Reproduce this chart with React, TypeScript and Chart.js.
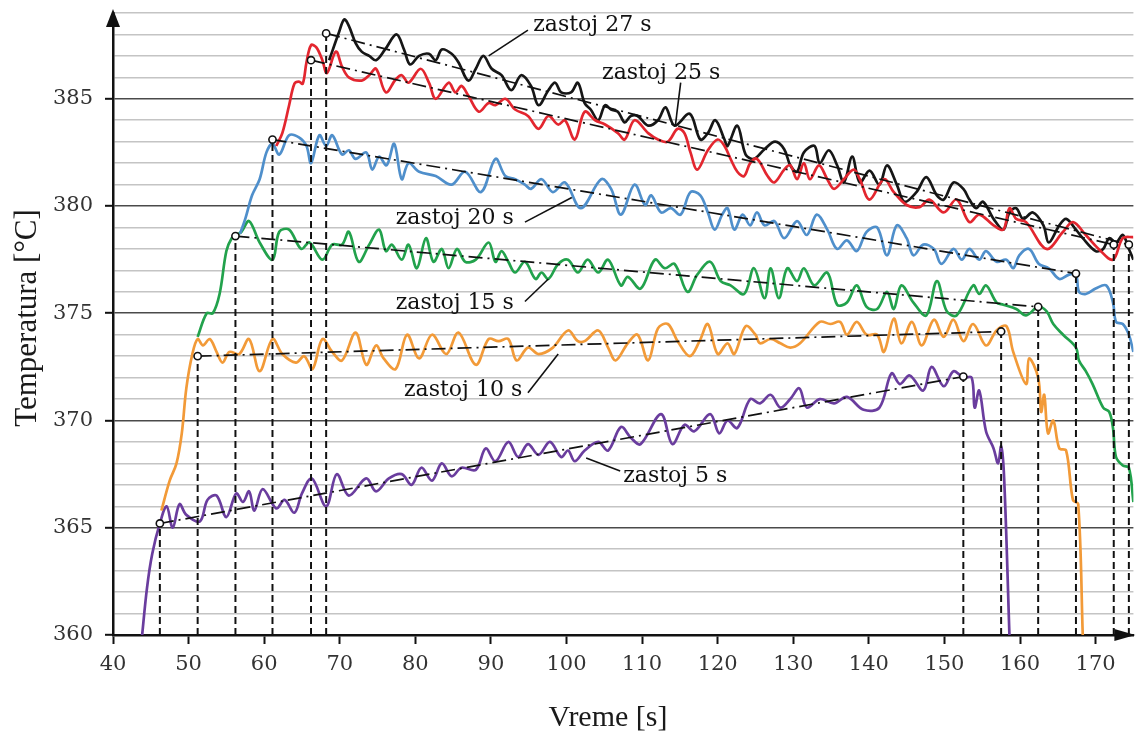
import React, { useEffect, useRef } from 'react';
import { Chart, registerables } from 'chart.js';

Chart.register(...registerables);

type P = [number, number];

// ---- tick values ----
const xTickValues = [40, 50, 60, 70, 80, 90, 100, 110, 120, 130, 140, 150, 160, 170];
const yGridValues = [360, 361, 362, 363, 364, 365, 366, 367, 368, 369, 370, 371, 372, 373, 374, 375, 376, 377, 378, 379, 380, 381, 382, 383, 384, 385, 386, 387, 388, 389];
const yLabelValues = [360, 365, 370, 375, 380, 385];

// ---- measured curves [time s, temperature °C] ----
const zastoj5: P[] = [
  [43.8, 359.8], [44.5, 362.2], [45.2, 363.8], [46.2, 365.2], [47.1, 366.0], [47.9, 365.0], [48.8, 366.1], [49.7, 365.6],
  [51.5, 365.3], [52.5, 366.3], [53.7, 366.5], [55.0, 365.5], [56.3, 366.6], [57.2, 366.2], [58.0, 366.7], [58.7, 365.8],
  [59.8, 366.8], [61.6, 365.9], [62.7, 366.3], [64.0, 365.7], [65.0, 366.6], [66.3, 367.3], [68.2, 366.0], [69.6, 367.5],
  [71.2, 366.5], [73.5, 367.3], [74.8, 366.7], [76.5, 367.3], [78.2, 367.5], [79.5, 367.0], [80.8, 367.8], [82.2, 367.2],
  [83.5, 368.0], [84.8, 367.4], [86.1, 367.8], [88.0, 367.7], [89.3, 368.7], [90.6, 368.1], [92.3, 369.0], [93.6, 368.3],
  [94.9, 368.9], [96.3, 368.4], [97.8, 369.0], [99.3, 368.3], [100.2, 368.6], [101.1, 368.1], [102.4, 368.6], [104.2, 369.0],
  [105.5, 368.6], [107.2, 369.7], [108.5, 369.2], [109.8, 368.9], [112.5, 370.3], [114.0, 368.9], [115.6, 369.8], [116.9, 369.5],
  [119.0, 370.3], [120.2, 369.4], [121.3, 370.0], [122.6, 369.65], [124.3, 371.0], [125.6, 370.8], [127.0, 371.2], [128.3, 370.6],
  [129.6, 371.0], [130.8, 371.5], [131.8, 370.6], [133.5, 371.0], [135.4, 370.8], [137.1, 371.1], [139.3, 370.5], [141.4, 370.6],
  [143.0, 372.2], [144.1, 371.7], [145.4, 372.1], [147.2, 371.4], [148.3, 372.5], [149.9, 371.6], [151.2, 372.3], [152.5, 372.0],
  [153.6, 372.0], [154.0, 370.6], [154.6, 371.4], [155.5, 369.5], [156.5, 368.7], [157.1, 368.0], [157.5, 368.8], [157.9, 367.3],
  [158.6, 360.0],
];

const zastoj10: P[] = [
  [46.4, 365.8], [47.5, 367.2], [48.4, 368.0], [49.1, 369.4], [49.7, 371.5], [50.5, 373.1], [51.2, 373.8], [51.9, 373.5],
  [52.8, 373.8], [53.7, 373.2], [54.5, 372.7], [55.4, 373.2], [56.7, 373.1], [58.0, 373.8], [59.4, 372.3], [61.1, 373.8],
  [62.4, 373.1], [64.2, 372.7], [65.3, 373.0], [66.4, 372.4], [67.7, 373.8], [69.0, 373.2], [70.3, 372.8], [72.1, 374.1],
  [73.5, 372.6], [74.8, 373.5], [75.8, 372.9], [77.4, 372.4], [78.9, 374.0], [80.5, 372.9], [82.2, 374.0], [84.1, 373.1],
  [85.7, 374.1], [88.0, 372.6], [89.7, 373.8], [91.0, 373.7], [92.3, 373.8], [93.4, 372.8], [94.9, 373.4], [96.3, 373.1],
  [98.2, 373.4], [100.2, 374.2], [101.5, 373.7], [102.4, 373.7], [104.2, 374.2], [105.5, 373.4], [106.5, 372.8], [108.1, 373.6],
  [109.4, 374.0], [110.8, 372.8], [112.1, 374.3], [113.4, 374.5], [114.7, 373.7], [116.3, 373.0], [117.6, 373.7], [118.7, 374.5],
  [120.0, 373.1], [121.3, 373.6], [122.2, 373.1], [123.7, 374.4], [125.0, 374.0], [125.6, 373.6], [127.0, 373.8], [128.3, 373.6],
  [129.6, 373.4], [130.9, 373.6], [133.5, 374.6], [134.9, 374.5], [136.2, 374.6], [137.1, 374.0], [138.4, 374.6], [139.7, 374.0],
  [141.1, 374.0], [142.0, 373.2], [143.3, 374.75], [144.3, 373.6], [145.7, 374.6], [147.0, 373.5], [148.6, 374.7], [149.9, 373.9],
  [151.2, 374.7], [152.5, 373.7], [153.8, 374.5], [155.5, 373.5], [156.9, 374.2], [158.2, 374.4], [159.1, 373.2], [160.8, 371.7],
  [161.2, 372.9], [162.4, 372.0], [162.8, 370.4], [163.2, 371.2], [163.7, 369.4], [164.4, 370.0], [165.2, 368.7], [166.1, 368.6],
  [167.0, 366.3], [167.7, 366.1], [168.3, 360.0],
];

const zastoj15: P[] = [
  [51.2, 373.9], [52.4, 375.0], [53.2, 375.0], [54.1, 375.9], [55.0, 377.9], [55.7, 378.5], [56.3, 378.65], [57.0, 378.8],
  [58.0, 379.3], [59.4, 378.3], [61.1, 377.5], [62.0, 378.8], [63.3, 378.9], [64.9, 378.0], [66.0, 378.3], [67.7, 377.5],
  [69.0, 378.2], [70.3, 378.2], [71.2, 378.8], [72.5, 377.4], [73.9, 378.2], [75.2, 378.9], [76.1, 377.9], [76.9, 378.2],
  [78.2, 377.5], [79.1, 378.2], [80.2, 377.1], [81.4, 378.5], [82.4, 377.4], [83.5, 378.0], [84.4, 377.1], [85.5, 378.0],
  [86.6, 377.4], [88.0, 377.5], [89.7, 378.3], [90.6, 377.4], [91.4, 377.9], [92.3, 377.4], [93.2, 376.9], [94.5, 377.4],
  [95.9, 376.6], [96.7, 376.9], [97.6, 376.6], [98.9, 377.3], [100.2, 377.5], [101.5, 376.9], [102.8, 377.5], [104.2, 376.9],
  [105.5, 377.5], [107.2, 376.3], [108.1, 376.7], [109.8, 376.15], [111.7, 377.5], [113.0, 377.1], [114.3, 377.3], [116.0, 376.0],
  [117.3, 376.8], [119.0, 377.4], [120.4, 376.5], [121.7, 376.3], [123.5, 375.9], [124.8, 377.1], [126.2, 375.7], [127.0, 377.1],
  [128.1, 375.7], [129.2, 377.1], [130.5, 376.5], [131.4, 377.1], [132.8, 376.3], [134.5, 376.9], [135.8, 375.4], [137.1, 375.5],
  [138.4, 376.3], [139.7, 375.3], [141.1, 375.2], [142.4, 376.0], [143.3, 375.2], [144.3, 376.3], [145.9, 375.5], [147.6, 374.9],
  [149.0, 376.5], [150.3, 375.1], [151.6, 374.9], [153.8, 376.3], [154.6, 375.9], [155.5, 376.3], [156.9, 375.5], [157.8, 375.4],
  [159.5, 375.2], [160.8, 374.9], [162.4, 375.3], [163.5, 375.1], [164.4, 374.5], [165.7, 374.0], [167.4, 373.4], [167.8, 372.8],
  [168.7, 372.3], [169.6, 371.7], [171.0, 370.6], [171.8, 370.4], [172.3, 369.65], [172.7, 368.3], [173.6, 367.9], [174.4, 367.8],
  [175.0, 366.2],
];

const zastoj20: P[] = [
  [56.8, 378.7], [57.5, 379.4], [58.4, 380.5], [59.4, 381.25], [60.3, 382.5], [61.1, 382.9], [62.0, 382.4], [63.3, 383.3],
  [64.6, 383.2], [65.6, 382.8], [66.2, 382.0], [67.3, 383.3], [68.2, 382.8], [69.0, 383.3], [70.3, 382.4], [71.2, 382.6],
  [72.1, 382.2], [73.5, 382.5], [74.3, 381.7], [75.2, 382.3], [76.2, 381.9], [77.2, 382.9], [78.2, 381.25], [79.1, 382.0],
  [80.5, 381.6], [82.7, 381.4], [84.8, 381.0], [86.6, 381.6], [88.7, 380.65], [90.6, 382.2], [91.9, 381.4], [93.2, 381.25],
  [94.5, 381.0], [95.3, 380.8], [96.7, 381.25], [98.2, 380.65], [99.8, 381.1], [101.9, 379.9], [104.6, 381.25], [105.9, 380.8],
  [107.2, 379.6], [109.0, 381.0], [110.4, 380.05], [111.2, 380.5], [112.5, 379.7], [113.8, 379.9], [115.1, 379.6], [116.4, 380.65],
  [117.7, 380.5], [118.7, 379.7], [119.6, 378.9], [120.6, 379.6], [121.3, 379.9], [122.2, 378.9], [123.3, 379.6], [124.3, 379.1],
  [125.2, 379.7], [126.2, 379.1], [127.5, 379.3], [128.8, 378.5], [130.5, 379.3], [131.8, 378.65], [133.1, 379.6], [134.5, 378.9],
  [135.8, 378.0], [137.1, 378.4], [138.4, 377.9], [139.7, 378.8], [141.1, 379.0], [142.4, 377.7], [143.7, 379.1], [145.0, 378.5],
  [145.9, 377.7], [147.2, 378.2], [148.6, 378.0], [149.6, 377.3], [151.2, 378.0], [152.3, 377.5], [153.3, 378.0], [154.6, 377.5],
  [155.5, 377.9], [156.9, 377.4], [158.2, 377.5], [159.1, 377.1], [159.9, 377.7], [161.2, 378.0], [162.5, 377.3], [163.8, 377.1],
  [165.2, 376.6], [166.5, 376.8], [167.4, 376.8], [167.8, 376.0], [168.7, 375.9], [170.0, 376.15], [171.4, 376.3], [172.3, 375.5],
  [172.7, 374.6], [173.6, 374.5], [174.4, 374.0], [175.0, 373.2],
];

const zastoj25: P[] = [
  [61.6, 382.8], [62.4, 383.4], [63.3, 384.7], [64.0, 385.7], [64.6, 385.8], [65.1, 385.7], [65.6, 386.7], [66.2, 387.5],
  [66.9, 387.4], [67.7, 386.8], [68.3, 386.2], [69.5, 387.2], [70.3, 386.5], [71.2, 386.0], [72.9, 385.85], [73.9, 386.1],
  [74.8, 386.4], [76.1, 385.3], [77.4, 385.9], [78.2, 386.1], [79.1, 385.75], [80.7, 386.4], [81.8, 385.75], [82.7, 385.0],
  [84.4, 385.75], [85.3, 385.3], [86.1, 385.6], [87.0, 385.15], [88.4, 384.4], [89.7, 384.8], [90.6, 384.7], [91.9, 385.0],
  [93.2, 384.5], [94.9, 384.2], [96.3, 383.6], [97.6, 384.2], [98.9, 383.8], [99.8, 384.0], [101.1, 383.1], [102.4, 384.4],
  [103.8, 384.0], [105.1, 383.8], [106.8, 383.4], [107.7, 383.1], [109.0, 384.0], [110.8, 383.4], [112.1, 383.1], [113.4, 383.0],
  [114.7, 383.6], [115.6, 383.4], [116.4, 382.5], [117.3, 381.7], [118.7, 382.6], [120.0, 383.1], [120.9, 382.8], [121.7, 382.2],
  [122.6, 381.6], [123.5, 381.4], [124.3, 382.0], [125.2, 382.2], [126.6, 381.4], [127.5, 381.1], [128.8, 381.7], [129.6, 381.9],
  [130.5, 381.25], [131.4, 382.0], [132.2, 381.25], [133.4, 381.9], [134.5, 381.25], [135.4, 380.8], [136.7, 381.25], [138.0, 381.7],
  [138.8, 381.25], [140.1, 380.3], [142.0, 381.25], [143.3, 380.65], [145.0, 380.05], [146.7, 379.95], [148.0, 380.3], [149.9, 379.7],
  [151.6, 380.3], [153.3, 379.25], [154.6, 379.6], [156.5, 379.1], [157.8, 378.9], [158.6, 379.9], [159.5, 379.4], [160.8, 379.25],
  [163.5, 378.0], [165.7, 378.8], [167.0, 379.25], [168.7, 378.65], [170.4, 378.0], [172.3, 377.5], [173.6, 378.5], [175.0, 378.55],
];

const zastoj27: P[] = [
  [68.6, 386.8], [69.9, 388.1], [70.6, 388.7], [71.2, 388.4], [72.1, 387.6], [72.9, 387.2], [73.9, 387.0], [74.8, 386.8],
  [76.0, 387.3], [77.5, 388.0], [78.5, 387.3], [79.3, 386.6], [80.5, 387.0], [81.8, 387.1], [82.7, 386.8], [83.5, 387.3],
  [84.8, 387.1], [85.7, 386.7], [87.0, 385.85], [88.0, 386.4], [89.0, 387.0], [90.1, 386.4], [91.4, 386.1], [92.7, 385.4],
  [94.0, 386.1], [95.3, 385.6], [96.3, 384.7], [97.6, 385.4], [98.5, 385.75], [99.3, 385.3], [100.6, 385.3], [101.5, 385.75],
  [102.4, 384.8], [103.2, 384.5], [104.2, 384.0], [105.1, 384.7], [105.9, 384.5], [106.8, 384.4], [107.7, 383.9], [108.5, 384.2],
  [109.4, 384.2], [110.8, 383.75], [112.1, 384.0], [113.1, 384.6], [114.3, 383.75], [116.3, 384.3], [117.7, 383.1], [118.7, 383.4],
  [119.7, 384.0], [120.9, 383.1], [121.3, 382.8], [122.6, 383.75], [123.7, 382.4], [124.8, 382.2], [126.2, 382.65], [127.6, 383.0],
  [128.8, 382.65], [129.6, 381.9], [130.5, 381.6], [131.4, 382.5], [132.8, 382.8], [133.5, 382.0], [134.7, 382.6], [135.8, 381.9],
  [136.7, 381.1], [137.8, 382.3], [138.8, 381.1], [140.1, 381.65], [141.4, 381.0], [142.4, 381.9], [143.7, 381.0], [144.7, 380.2],
  [146.3, 380.65], [147.6, 381.35], [149.0, 380.5], [149.9, 380.3], [151.2, 381.1], [152.5, 380.8], [153.3, 380.3], [154.2, 379.9],
  [155.1, 380.2], [156.5, 379.4], [157.8, 378.9], [158.6, 379.7], [159.5, 379.9], [160.4, 379.4], [161.7, 379.7], [163.1, 379.1],
  [163.8, 378.3], [165.2, 379.1], [166.1, 379.4], [167.4, 378.9], [168.3, 378.5], [170.0, 377.9], [171.0, 378.0], [171.8, 378.5],
  [172.7, 378.3], [173.6, 378.65], [174.4, 378.0], [175.0, 377.5],
];

const curves = [zastoj5, zastoj10, zastoj15, zastoj20, zastoj25, zastoj27];
const curveColors = ['#6a3d9e', '#f29a38', '#22a24c', '#4f8fcb', '#e3262f', '#161616'];
const curveOrder = [20, 19, 18, 17, 15, 16];

// plateau start / end points (circles)
const startX = [46.2, 51.2, 56.2, 61.1, 66.2, 68.2];
const startY = [365.2, 373.0, 378.6, 383.1, 386.8, 388.05];
const endX = [152.5, 157.5, 162.4, 167.4, 172.4, 174.4];
const endY = [372.05, 374.15, 375.3, 376.85, 378.2, 378.2];
const axisBase = 360;

// annotation labels
const labelTexts = ['zastoj 27 s', 'zastoj 25 s', 'zastoj 20 s', 'zastoj 15 s', 'zastoj 10 s', 'zastoj 5 s'];
const labelX = [95.6, 104.7, 77.4, 77.4, 78.5, 107.5];
const labelY = [388.45, 386.2, 379.45, 375.45, 371.4, 367.4];
const leaderFromX = [94.9, 115.1, 94.5, 94.5, 94.9, 107.1];
const leaderFromY = [388.2, 385.75, 379.25, 375.55, 371.3, 367.65];
const leaderToX = [89.7, 114.4, 100.7, 97.6, 98.9, 102.6];
const leaderToY = [387.0, 383.75, 380.4, 376.6, 373.1, 368.25];

const xTitle = 'Vreme [s]';
const yTitle = 'Temperatura [°C]';

const SERIF = '"DejaVu Serif", serif';
const TIMES = '"Liberation Serif", "Times New Roman", serif';

const decorPlugin = {
  id: 'decor',
  afterDatasetsDraw(chart: any) {
    const { ctx, scales } = chart;
    const xs = scales.x;
    const ys = scales.y;
    ctx.save();
    ctx.strokeStyle = '#111';
    ctx.lineWidth = 1.6;
    ctx.setLineDash([]);
    for (let i = 0; i < labelTexts.length; i++) {
      ctx.beginPath();
      ctx.moveTo(xs.getPixelForValue(leaderFromX[i]), ys.getPixelForValue(leaderFromY[i]));
      ctx.lineTo(xs.getPixelForValue(leaderToX[i]), ys.getPixelForValue(leaderToY[i]));
      ctx.stroke();
    }
    ctx.fillStyle = '#111';
    ctx.font = '22px ' + SERIF;
    ctx.textAlign = 'left';
    ctx.textBaseline = 'middle';
    for (let i = 0; i < labelTexts.length; i++) {
      ctx.fillText(labelTexts[i], xs.getPixelForValue(labelX[i]), ys.getPixelForValue(labelY[i]));
    }
    ctx.restore();
  },
  afterDraw(chart: any) {
    const { ctx, chartArea } = chart;
    const { left, right, top, bottom } = chartArea;
    ctx.save();
    ctx.fillStyle = '#111';
    // y arrow
    ctx.beginPath();
    ctx.moveTo(left, top - 4);
    ctx.lineTo(left - 7, top + 14);
    ctx.lineTo(left + 7, top + 14);
    ctx.closePath();
    ctx.fill();
    // x arrow
    ctx.beginPath();
    ctx.moveTo(right + 2, bottom);
    ctx.lineTo(right - 19, bottom - 6);
    ctx.lineTo(right - 19, bottom + 6);
    ctx.closePath();
    ctx.fill();
    // titles
    ctx.fillStyle = '#1a1a1a';
    ctx.font = '30px ' + TIMES;
    ctx.textAlign = 'center';
    ctx.textBaseline = 'middle';
    ctx.fillText(xTitle, 608, 718);
    ctx.translate(28, 318);
    ctx.rotate(-Math.PI / 2);
    ctx.font = '31px ' + TIMES;
    ctx.fillText(yTitle, 0, 0);
    ctx.restore();
  },
};

export default function App() {
  const canvasRef = useRef<HTMLCanvasElement | null>(null);

  useEffect(() => {
    if (!canvasRef.current) return;
    const datasets: any[] = [];

    // circles
    const circlePts = startX.map((x, i) => ({ x, y: startY[i] })).concat(endX.map((x, i) => ({ x, y: endY[i] })));
    datasets.push({
      data: circlePts,
      showLine: false,
      pointRadius: 3.6,
      pointBackgroundColor: '#ffffff',
      pointBorderColor: '#111',
      pointBorderWidth: 1.6,
      order: 0,
    });

    // trend lines
    for (let i = 0; i < startX.length; i++) {
      datasets.push({
        data: [{ x: startX[i], y: startY[i] }, { x: endX[i], y: endY[i] }],
        borderColor: '#111',
        borderWidth: 1.7,
        borderDash: [14, 5, 2, 5],
        pointRadius: 0,
        tension: 0,
        order: 2,
      });
    }

    // vertical dashed lines
    const vx = startX.concat(endX);
    const vy = startY.concat(endY);
    for (let i = 0; i < vx.length; i++) {
      datasets.push({
        data: [{ x: vx[i], y: axisBase }, { x: vx[i], y: vy[i] }],
        borderColor: '#111',
        borderWidth: 2,
        borderDash: [7, 4],
        pointRadius: 0,
        tension: 0,
        order: 3,
      });
    }

    // curves
    curves.forEach((pts, i) => {
      datasets.push({
        data: pts.map(([x, y]) => ({ x, y })),
        borderColor: curveColors[i],
        borderWidth: 2.7,
        pointRadius: 0,
        tension: 0.35,
        fill: false,
        order: curveOrder[i],
      });
    });

    const chart = new Chart(canvasRef.current, {
      type: 'line',
      data: { datasets },
      plugins: [decorPlugin],
      options: {
        animation: false,
        responsive: true,
        maintainAspectRatio: false,
        events: [],
        layout: { padding: { top: 13, right: 1, left: 0, bottom: 0 } },
        plugins: { legend: { display: false }, tooltip: { enabled: false } },
        scales: {
          x: {
            type: 'linear',
            min: 40,
            max: 175,
            afterBuildTicks: (s: any) => {
              s.ticks = xTickValues.map((v) => ({ value: v }));
            },
            afterFit: (s: any) => {
              s.height = 107;
              s.paddingLeft = 0;
              s.paddingRight = 0;
            },
            ticks: {
              autoSkip: false,
              maxRotation: 0,
              padding: 8,
              color: '#333',
              font: { family: SERIF, size: 21 },
              callback: (v: any) => String(v),
            },
            grid: {
              drawOnChartArea: false,
              drawTicks: true,
              tickLength: 9,
              tickColor: '#111',
              tickWidth: 2,
            },
            border: { color: '#111', width: 2.5 },
          },
          y: {
            type: 'linear',
            min: 360,
            max: 389,
            afterBuildTicks: (s: any) => {
              s.ticks = yGridValues.map((v) => ({ value: v }));
            },
            afterFit: (s: any) => {
              s.width = 113;
              s.paddingTop = 0;
              s.paddingBottom = 0;
            },
            ticks: {
              autoSkip: false,
              padding: 12,
              color: '#333',
              font: { family: SERIF, size: 21 },
              callback: (v: any) => (yLabelValues.includes(Number(v)) ? String(v) : ''),
            },
            grid: {
              color: (c: any) => (c.tick && yLabelValues.includes(c.tick.value) ? '#4a4a4a' : '#c4c4c4'),
              lineWidth: 1.6,
              tickLength: 8,
              tickWidth: 2,
              tickColor: (c: any) => (c.tick && yLabelValues.includes(c.tick.value) ? '#111' : 'rgba(0,0,0,0)'),
            },
            border: { color: '#111', width: 2.5 },
          },
        },
      } as any,
    });
    return () => chart.destroy();
  }, []);

  return (
    <div style={{ position: 'absolute', left: 0, top: 0, width: 1139, height: 742, background: '#fff' }}>
      <canvas ref={canvasRef} />
    </div>
  );
}
